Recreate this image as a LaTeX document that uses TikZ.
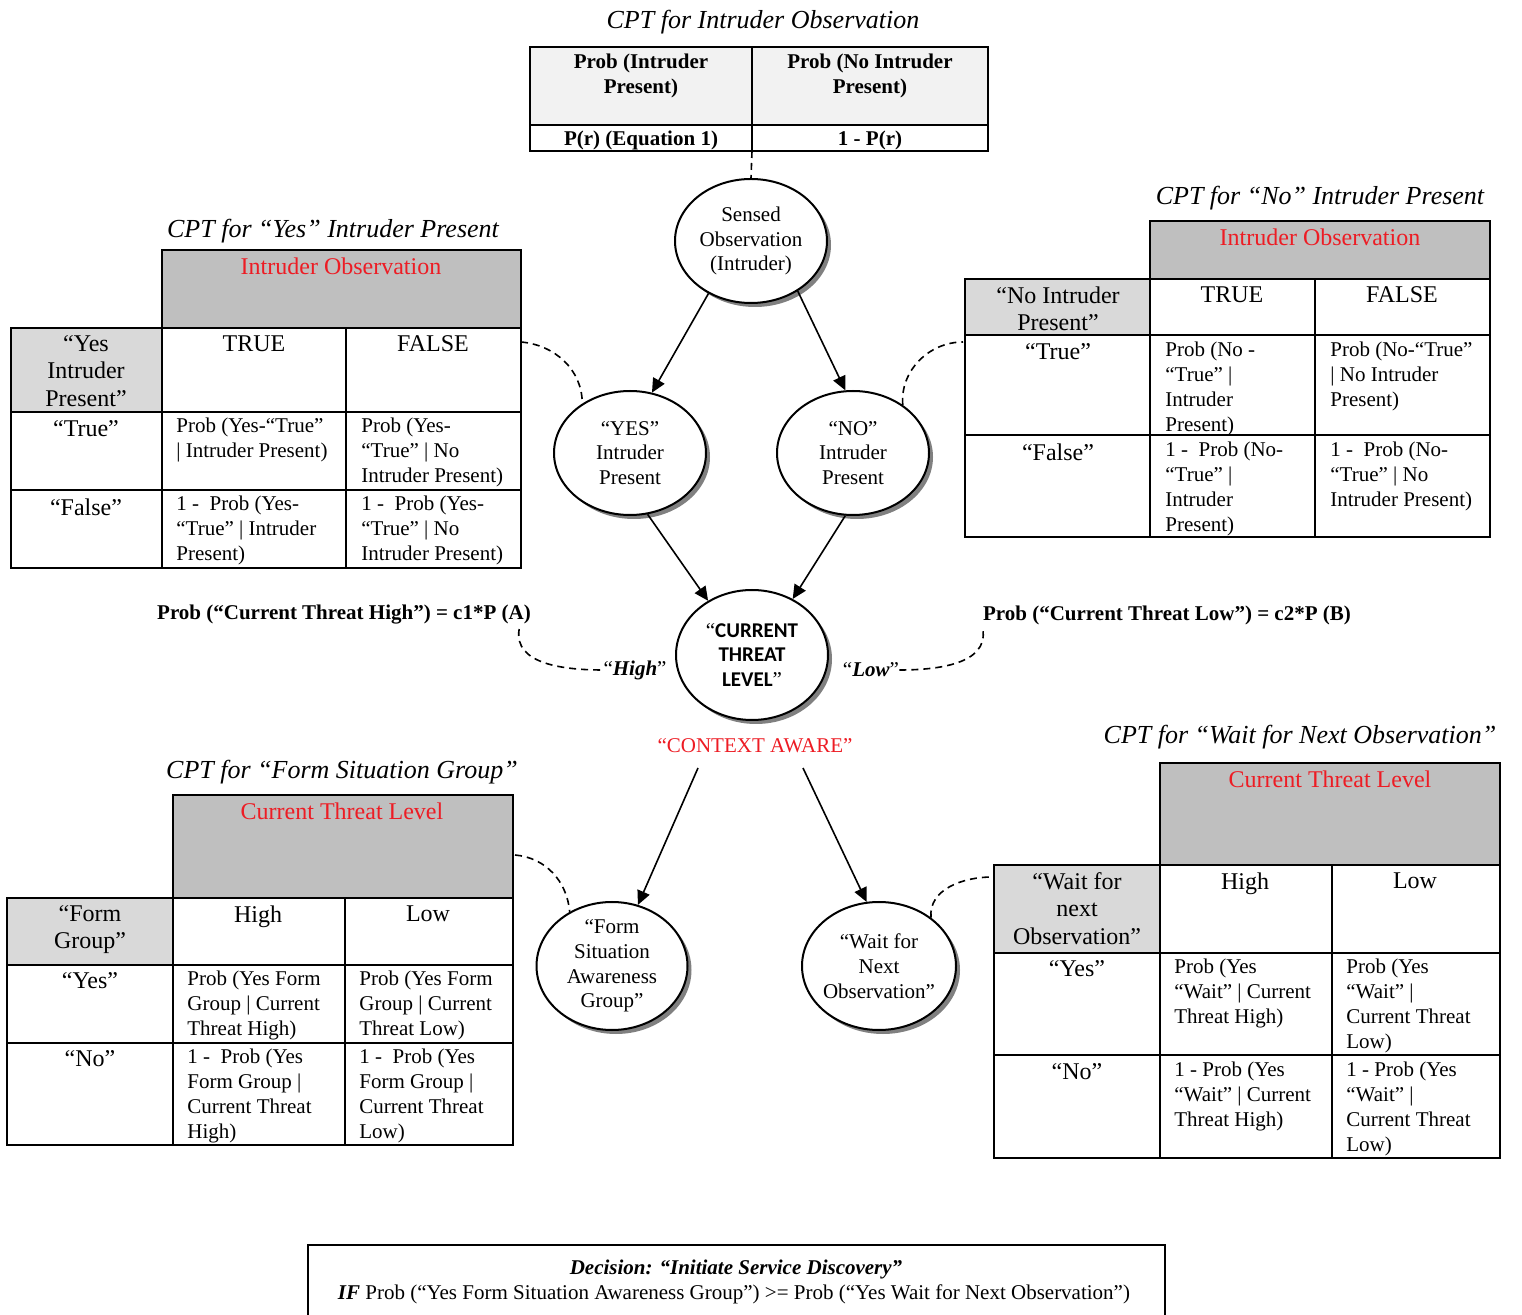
\documentclass[tikz,border=0pt]{standalone}
\usepackage{fontspec}
\setmainfont{Liberation Serif}
\newfontfamily\ctlfont{Carlito}
\usetikzlibrary{shapes.geometric,arrows.meta,shadows}

\definecolor{hdrgray}{RGB}{191,191,191}
\definecolor{rowgray}{RGB}{217,217,217}
\definecolor{topgray}{RGB}{242,242,242}
\definecolor{cptred}{RGB}{237,28,36}

\newcommand\bodyfs{\fontsize{10.5}{12.4}\selectfont}
\newcommand\hdrfs{\fontsize{12}{13.8}\selectfont}

\begin{document}
\begin{tikzpicture}[x=0.5pt,y=-0.5pt,>={Triangle[length=7pt,width=6.5pt]},
  tbl/.style={line width=1.2pt},
  bn/.style={ellipse,draw,line width=1pt,fill=white,inner sep=0pt,
    minimum width=76pt,minimum height=62pt,
    drop shadow={shadow xshift=2pt,shadow yshift=-2pt,fill=black!50,opacity=1}},
  btext/.style={align=center,font=\bodyfs,inner sep=0pt},
  hd/.style={anchor=north,align=center,font=\hdrfs,inner sep=0pt},
  redhd/.style={hd,text=cptred},
  bd/.style={anchor=north west,align=left,font=\bodyfs,inner sep=0pt},
  ttl/.style={font=\fontsize{13}{15}\selectfont\itshape,inner sep=0pt},
  link/.style={line width=0.8pt,dash pattern=on 3.5pt off 2.5pt},
  arr/.style={->,line width=0.8pt}]
\useasboundingbox (0,0) rectangle (1522,1315);

% intruder observation
\node[ttl] (ttlobs) at (763,22) {CPT for Intruder Observation};
\fill[topgray] (530,47) rectangle (988,125);
\draw[tbl] (530,47) rectangle (988,151) (752,47) -- (752,151) (530,125) -- (988,125);
\node[hd,font=\bodyfs\bfseries] (pint) at (641,54) {Prob (Intruder\\Present)};
\node[hd,font=\bodyfs\bfseries] (pnoint) at (870,54) {Prob (No Intruder\\Present)};
\node[hd,font=\bodyfs\bfseries] (preq) at (641,131) {P(r) (Equation 1)};
\node[hd,font=\bodyfs\bfseries] (pnoeq) at (870,131) {1 - P(r)};
\coordinate (obsb) at (752,151);

% yes intruder present
\node[ttl] (ttlyes) at (333,231) {CPT for “Yes” Intruder Present};
\fill[hdrgray] (162,250) rectangle (521,328);
\fill[rowgray] (11,328) rectangle (162,412);
\draw[tbl] (162,250) rectangle (521,328) (11,328) rectangle (521,568);
\draw[tbl] (162,328) -- (162,568) (346,328) -- (346,568) (11,412) -- (521,412) (11,490) -- (521,490);
\node[redhd] (yesobs) at (341,257) {Intruder Observation};
\node[hd] (yesrow) at (86,335) {“Yes\\Intruder\\Present”};
\node[hd] (yestrue) at (254,335) {TRUE};
\node[hd] (yesfalse) at (433,335) {FALSE};
\node[hd] (yesr1) at (86,420) {“True”};
\node[hd] (yesr2) at (86,498) {“False”};
\node[bd] (yes11) at (176,418) {Prob (Yes-“True”\\| Intruder Present)};
\node[bd] (yes12) at (361,418) {Prob (Yes-\\“True” | No\\Intruder Present)};
\node[bd] (yes21) at (176,496) {1 -\ \ Prob (Yes-\\“True” | Intruder\\Present)};
\node[bd] (yes22) at (361,496) {1 -\ \ Prob (Yes-\\“True” | No\\Intruder Present)};
\coordinate (tyes) at (521,342);

% no intruder present
\node[ttl] (ttlno) at (1320,198) {CPT for “No” Intruder Present};
\fill[hdrgray] (1150,221) rectangle (1490,279);
\fill[rowgray] (965,279) rectangle (1150,335);
\draw[tbl] (1150,221) rectangle (1490,279) (965,279) rectangle (1490,537);
\draw[tbl] (1150,279) -- (1150,537) (1315,279) -- (1315,537) (965,335) -- (1490,335) (965,435) -- (1490,435);
\node[redhd] (noobs) at (1320,228) {Intruder Observation};
\node[hd] (norow) at (1058,286) {“No Intruder\\Present”};
\node[hd] (notrue) at (1232,286) {TRUE};
\node[hd] (nofalse) at (1402,286) {FALSE};
\node[hd] (nor1) at (1058,343) {“True”};
\node[hd] (nor2) at (1058,443) {“False”};
\node[bd] (no11) at (1165,342) {Prob (No -\\“True” |\\Intruder\\Present)};
\node[bd] (no12) at (1330,342) {Prob (No-“True”\\| No Intruder\\Present)};
\node[bd] (no21) at (1165,442) {1 -\ \ Prob (No-\\“True” |\\Intruder\\Present)};
\node[bd] (no22) at (1330,442) {1 -\ \ Prob (No-\\“True” | No\\Intruder Present)};
\coordinate (tno) at (963,342);

% form situation group
\node[ttl] (ttlform) at (342,772) {CPT for “Form Situation Group”};
\fill[hdrgray] (173,795) rectangle (513,898);
\fill[rowgray] (7,898) rectangle (173,965);
\draw[tbl] (173,795) rectangle (513,898) (7,898) rectangle (513,1145);
\draw[tbl] (173,898) -- (173,1145) (345,898) -- (345,1145) (7,965) -- (513,965) (7,1043) -- (513,1043);
\node[redhd] (formctl) at (342,802) {Current Threat Level};
\node[hd] (formrow) at (90,905) {“Form\\Group”};
\node[hd] (formhi) at (258,905) {High};
\node[hd] (formlo) at (428,905) {Low};
\node[hd] (formr1) at (90,972) {“Yes”};
\node[hd] (formr2) at (90,1050) {“No”};
\node[bd] (form11) at (187,971) {Prob (Yes Form\\Group | Current\\Threat High)};
\node[bd] (form12) at (359,971) {Prob (Yes Form\\Group | Current\\Threat Low)};
\node[bd] (form21) at (187,1049) {1 -\ \ Prob (Yes\\Form Group |\\Current Threat\\High)};
\node[bd] (form22) at (359,1049) {1 -\ \ Prob (Yes\\Form Group |\\Current Threat\\Low)};
\coordinate (tform) at (515,855);

% wait for next observation
\node[ttl] (ttlwait) at (1300,737) {CPT for “Wait for Next Observation”};
\fill[hdrgray] (1160,763) rectangle (1500,865);
\fill[rowgray] (994,865) rectangle (1160,953);
\draw[tbl] (1160,763) rectangle (1500,865) (994,865) rectangle (1500,1158);
\draw[tbl] (1160,865) -- (1160,1158) (1332,865) -- (1332,1158) (994,953) -- (1500,953) (994,1055) -- (1500,1055);
\node[redhd] (waitctl) at (1330,770) {Current Threat Level};
\node[hd] (waitrow) at (1077,872) {“Wait for\\next\\Observation”};
\node[hd] (waithi) at (1245,872) {High};
\node[hd] (waitlo) at (1415,872) {Low};
\node[hd] (waitr1) at (1077,960) {“Yes”};
\node[hd] (waitr2) at (1077,1063) {“No”};
\node[bd] (wait11) at (1174,959) {Prob (Yes\\“Wait” | Current\\Threat High)};
\node[bd] (wait12) at (1346,959) {Prob (Yes\\“Wait” |\\Current Threat\\Low)};
\node[bd] (wait21) at (1174,1062) {1 - Prob (Yes\\“Wait” | Current\\Threat High)};
\node[bd] (wait22) at (1346,1062) {1 - Prob (Yes\\“Wait” |\\Current Threat\\Low)};
\coordinate (twait) at (992,877);

% network
\node[bn] (sensed) at (751,241) {};
\node[btext] (sensedt) at (sensed) {Sensed\\Observation\\(Intruder)};
\node[bn] (yes) at (630,453) {};
\node[btext] (yest) at (yes) {“YES”\\Intruder\\Present};
\node[bn] (no) at (853,453) {};
\node[btext] (not) at (no) {“NO”\\Intruder\\Present};
\node[bn,minimum height=65pt] (ctl) at (752,655) {};
\node[btext] (ctlt) at (ctl) {“{\ctlfont\bfseries CURRENT}\\{\ctlfont\bfseries THREAT}\\{\ctlfont\bfseries LEVEL}”};
\node[btext,text=cptred] (ctx) at (755,746) {“CONTEXT AWARE”};
\coordinate (ctxl) at (698,768);
\coordinate (ctxr) at (803,768);
\node[bn,minimum width=75.5pt,minimum height=64pt] (form) at (612,966) {};
\node[btext] (formt) at (form) {“Form\\Situation\\Awareness\\Group”};
\node[bn,minimum width=77pt,minimum height=64pt] (wait) at (879,966) {};
\node[btext] (waitt) at (wait) {“Wait for\\Next\\Observation”};

\draw[arr] (sensed.-129) -- (yes.70);
\draw[arr] (sensed.-47) -- (no.97);
\draw[arr] (yes.-74) -- (ctl.129);
\draw[arr] (no.-97) -- (ctl.54);
\draw[arr] (ctxl) -- (form.67);
\draw[arr] (ctxr) -- (wait.101);

\draw[link] (obsb) -- (sensed.north);
\draw[link] (tyes) to[out=-5,in=90] (yes.134);
\draw[link] (no.44) to[out=95,in=180] (tno);
\draw[link] (tform) to[out=-5,in=95] (form.128);
\draw[link] (wait.43) to[out=95,in=180] (twait);

% threat level values
\node[font=\bodyfs\bfseries,inner sep=0pt] (probhi) at (344,615) {Prob (“Current Threat High”) = c1*P (A)};
\node[font=\bodyfs\bfseries,inner sep=0pt] (problo) at (1167,615) {Prob (“Current Threat Low”) = c2*P (B)};
\node[font=\bodyfs,inner sep=0pt] (high) at (635,670) {“\textbf{\textit{High}}”};
\node[font=\bodyfs,inner sep=0pt] (low) at (871,670) {“\textbf{\textit{Low}}”};
\draw[link] ([xshift=-6pt,yshift=-2pt]probhi.south east) to[out=-100,in=180] (high.west);
\draw[link] (low.east) to[out=0,in=-80] ([yshift=-2pt]problo.south west);

% decision
\draw[line width=1pt] (308,1318) |- (1165,1245) -- (1165,1318);
\node[font=\bodyfs\bfseries\itshape,inner sep=0pt] (dec) at (736,1269) {Decision: “Initiate Service Discovery”};
\node[font=\bodyfs,inner sep=0pt] (decif) at (734,1294) {\textbf{\textit{IF}} Prob (“Yes Form Situation Awareness Group”) >= Prob (“Yes Wait for Next Observation”)};
\end{tikzpicture}
\end{document}
